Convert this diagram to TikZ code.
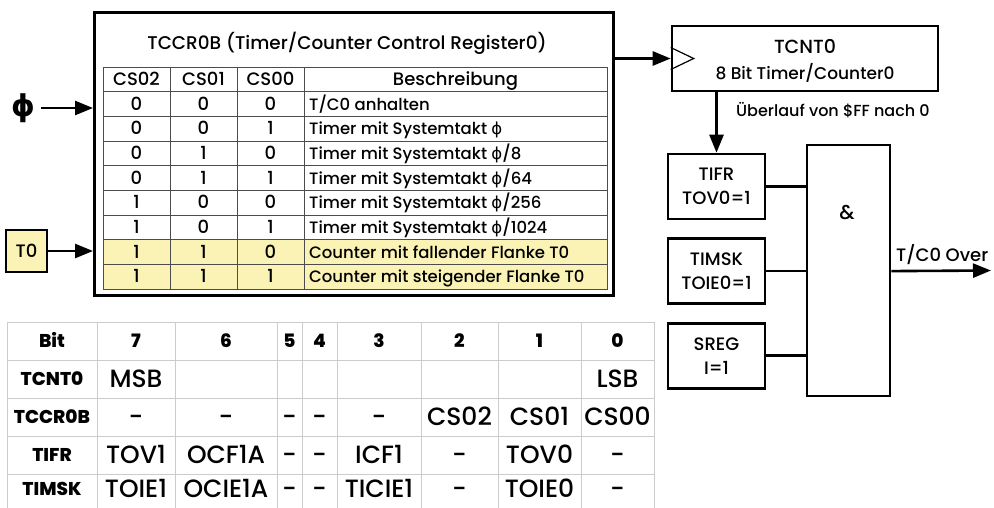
\documentclass[tikz,border=0pt]{standalone}
\usepackage{fontspec}
\setmainfont{Poppins}[UprightFont=* Medium, BoldFont=* ExtraBold]
\newfontfamily\symfont{DejaVu Sans}
\usetikzlibrary{positioning, arrows.meta}
\definecolor{flankyellow}{RGB}{250,243,181}
\newcommand{\phisym}{{\symfont ϕ}}
\tikzset{
    x=1pt, y=-1pt, % one unit per pixel, y runs downwards
    >={Triangle[length=18pt, width=14pt]}, % big filled arrow heads
    every node/.style={inner sep=0pt, font=\fontsize{18}{24}\selectfont}, % text size of all labels
    cell/.style={text height=12.5pt, text depth=0pt}, % one line of the TCCR0B table
    val/.style={text height=17pt, text depth=0pt, font=\fontsize{25}{28}\selectfont}, % one entry of the bit table
    head/.style={text height=13.5pt, text depth=0pt, font=\fontsize{18.5}{22}\selectfont\bfseries}, % bold headings of the bit table
    box/.style={draw, line width=2.6pt, align=center}, % register boxes
    wire/.style={line width=2.6pt}, % signal lines
    grid/.style={draw=black!70, line width=0.8pt}, % lines of the TCCR0B table
    litegrid/.style={draw=gray!40, line width=1pt}, % lines of the bit table
}

\begin{document}
\begin{tikzpicture}
\useasboundingbox (0,0) rectangle (994,507);

% TCCR0B and its table
\node[box, line width=3pt, minimum width=519pt, minimum height=283pt] (ctrl) at (354,154) {};
\node[cell, font=\fontsize{18.4}{24}\selectfont] (title) at (347,43) {TCCR0B (Timer/Counter Control Register0)};
\fill[flankyellow] (103,240.3) rectangle (607,289);
\foreach \r in {1,...,8} \draw[grid] (103,67+24.67*\r) -- (607,67+24.67*\r);
\foreach \x in {170,237,304} \draw[grid] (\x,67) -- (\x,289);
\draw[grid] (103,67) rectangle (607,289);
\node[cell] (cs2-0) at (136.5,79.3) {CS02};
\node[cell] (cs1-0) at (203.5,79.3) {CS01};
\node[cell] (cs0-0) at (270.5,79.3) {CS00};
\node[cell] (mode-0) at (455.5,79.3) {Beschreibung};
\foreach \a/\b/\c/\txt [count=\r] in {
    0/0/0/{T/C0 anhalten},
    0/0/1/{Timer mit Systemtakt \phisym},
    0/1/0/{Timer mit Systemtakt \phisym/8},
    0/1/1/{Timer mit Systemtakt \phisym/64},
    1/0/0/{Timer mit Systemtakt \phisym/256},
    1/0/1/{Timer mit Systemtakt \phisym/1024},
    1/1/0/{Counter mit fallender Flanke T0},
    1/1/1/{Counter mit steigender Flanke T0}}{
  \node[cell] (cs2-\r) at (136.5,79.3+24.67*\r) {\a};
  \node[cell] (cs1-\r) at (203.5,79.3+24.67*\r) {\b};
  \node[cell] (cs0-\r) at (270.5,79.3+24.67*\r) {\c};
  \node[cell, anchor=west, font=\fontsize{16.5}{20}\selectfont] (mode-\r) at (309,79.3+24.67*\r) {\txt};
}

% clock inputs
\node[font=\symfont\bfseries\fontsize{30}{30}\selectfont, inner xsep=6pt] (phi) at (23,108) {ϕ};
\node[box, fill=flankyellow, minimum width=41pt, minimum height=42pt] (t0) at (26.5,251) {T0};
\draw[wire, ->] (phi.east) -- (phi.east -| ctrl.west);
\draw[wire, ->] (t0) -- (t0 -| ctrl.west);

% counter and overflow logic
\node[box, minimum width=266pt, minimum height=65pt] (tcnt) at (805,58.5) {};
\node[cell, font=\fontsize{19}{24}\selectfont] (tcnt-name) at (805,47) {TCNT0};
\node[cell, font=\fontsize{17}{20}\selectfont] (tcnt-info) at (805,73) {8 Bit Timer/Counter0};
\draw[line width=1.2pt] ([yshift=11pt]tcnt.west) -- ([xshift=23pt]tcnt.west) -- ([yshift=-11pt]tcnt.west);
\draw[wire, ->] (tcnt.west -| ctrl.east) -- (tcnt.west);

\node[box, minimum width=97pt, minimum height=65pt] (tifr) at (716.5,186.5) {TIFR\\TOV0=1};
\node[box, minimum width=97pt, minimum height=65pt, below=17pt of tifr] (timsk) {TIMSK\\TOIE0=1};
\node[box, minimum width=97pt, minimum height=65pt, below=17pt of timsk] (sreg) {SREG\\I=1};
\draw[wire, ->] (tcnt.south -| tifr) -- (tifr.north);
\node[cell, anchor=west, font=\fontsize{16}{18}\selectfont] (ovf) at (736,110) {Überlauf von \$FF nach 0};

\node[box, minimum width=83pt, minimum height=251pt] (and) at (848.5,270.5) {};
\node[cell, font=\fontsize{20}{24}\selectfont] (amp) at (847,213) {\&};
\foreach \n in {tifr, timsk, sreg} \draw[wire] (\n.east) -- (\n.east -| and.west);
\coordinate (out) at (991,270.5);
\draw[wire, ->] (and.east |- timsk) -- (out);
\node[anchor=base west] (ovl) at (896,261) {T/C0 Over};

% bit table
\foreach \x in {7,97,175,277,302,337,421,498,581,654} \draw[litegrid] (\x,322) -- (\x,512);
\foreach \y in {322,360,398,436,474} \draw[litegrid] (7,\y) -- (654,\y);
\node[head] (reg-0) at (52,341) {Bit};
\foreach \x/\bit in {136/7, 226/6, 289.5/5, 319.5/4, 379/3, 459.5/2, 539.5/1, 617.5/0}
  \node[head] (bit-\bit) at (\x,341) {\bit};
\foreach \lab/\y/\cells [count=\r] in {
    TCNT0/379/{MSB,{},{},{},{},{},{},LSB},
    TCCR0B/417/{-,-,-,-,-,CS02,CS01,CS00},
    TIFR/455/{TOV1,OCF1A,-,-,ICF1,-,TOV0,-},
    TIMSK/489/{TOIE1,OCIE1A,-,-,TICIE1,-,TOIE0,-}}{
  \node[head] (reg-\r) at (52,\y) {\lab};
  \foreach \t [count=\c] in \cells {
    \pgfmathtruncatemacro\bit{8-\c}
    \node[val] (val-\r-\bit) at (bit-\bit |- reg-\r) {\t};
  }
}
\end{tikzpicture}
\end{document}
